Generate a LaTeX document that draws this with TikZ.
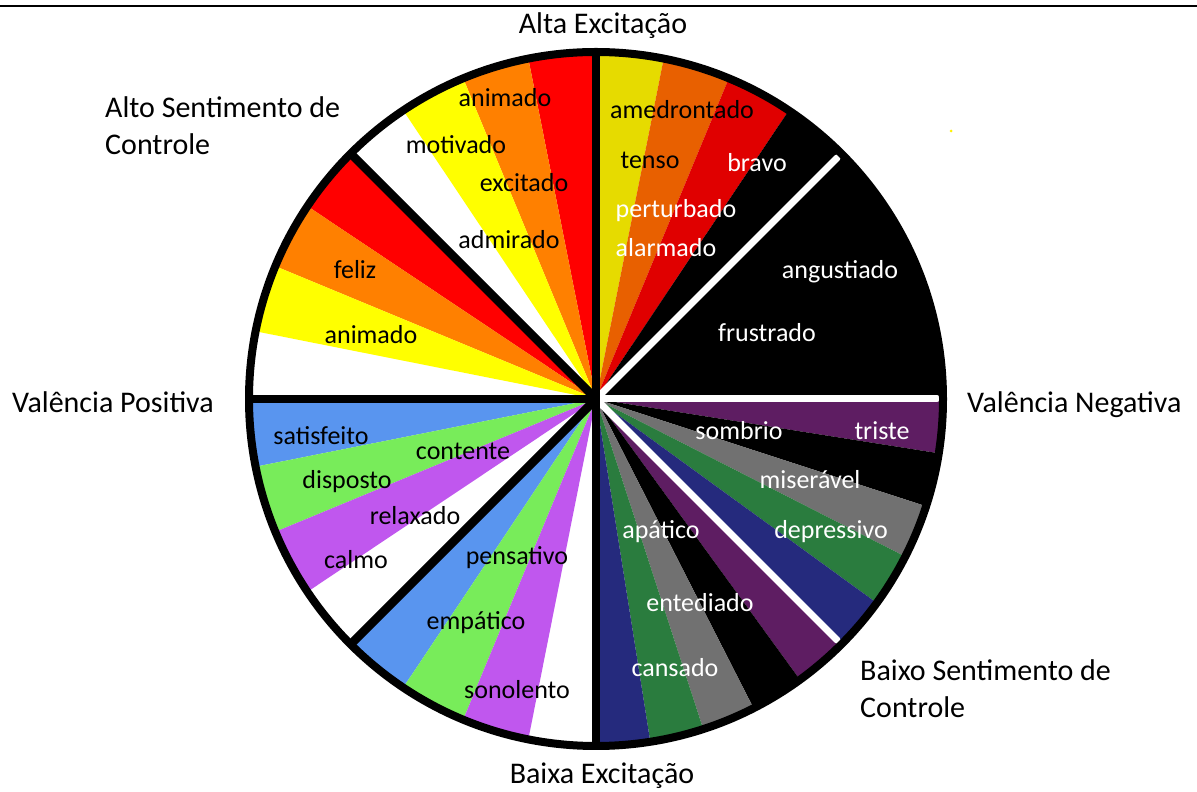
\documentclass[tikz,border=0pt]{standalone}
\usepackage{fontspec}
\setmainfont{Carlito}
\usetikzlibrary{calc}
\definecolor{cRed}{HTML}{FF0000}
\definecolor{cOrange}{HTML}{FF8000}
\definecolor{cYellow}{HTML}{FFFF00}
\definecolor{dYellow}{HTML}{E6DB00}
\definecolor{dOrange}{HTML}{E86000}
\definecolor{dRed}{HTML}{E00000}
\definecolor{cBlue}{HTML}{5995EF}
\definecolor{cGreen}{HTML}{78EC5A}
\definecolor{cLilac}{HTML}{C057EE}
\definecolor{dPurple}{HTML}{5E1D62}
\definecolor{dGray}{HTML}{717171}
\definecolor{dGreen}{HTML}{2A7C3E}
\definecolor{dNavy}{HTML}{252A7D}
\newcommand\wdg[3]{\fill[#1] (C) -- +(#2:347pt) arc[start angle=#2, end angle=#3, radius=347pt] -- cycle;}
\tikzset{
  lbl/.style={font=\fontsize{26}{31}\selectfont, text height=22pt, text depth=4pt, inner sep=0pt, anchor=center},
  lblw/.style={lbl, text=white},
  outer/.style={font=\fontsize{30}{37}\selectfont, inner sep=0pt, align=left},
  blackray/.style={draw=black, line width=8.5pt},
  whiteray/.style={draw=white, line width=7pt, line cap=round},
}
\begin{document}
\begin{tikzpicture}[x=1pt,y=1pt]
\useasboundingbox (0,0) rectangle (1197,792);
\fill[white] (0,0) rectangle (1197,792);
\draw[line width=2.5pt] (0,786) coordinate (tl) -- (1197,786) coordinate (tr);
\coordinate (C) at (596,393);
% top-left
\wdg{cRed}{90}{101.25}
\wdg{cOrange}{101.25}{112.5}
\wdg{cYellow}{112.5}{123.75}
\wdg{cRed}{135}{146.25}
\wdg{cOrange}{146.25}{157.5}
\wdg{cYellow}{157.5}{168.75}
% top-right
\wdg{dYellow}{78.75}{90}
\wdg{dOrange}{67.5}{78.75}
\wdg{dRed}{56.25}{67.5}
\wdg{black}{0}{56.25}
% bottom-right
\wdg{dPurple}{351}{360}
\wdg{black}{342}{351}
\wdg{dGray}{333}{342}
\wdg{dGreen}{324}{333}
\wdg{dNavy}{315}{324}
\wdg{dPurple}{306}{315}
\wdg{black}{297}{306}
\wdg{dGray}{288}{297}
\wdg{dGreen}{279}{288}
\wdg{dNavy}{270}{279}
% bottom-left
\wdg{cBlue}{180}{191.25}
\wdg{cGreen}{191.25}{202.5}
\wdg{cLilac}{202.5}{213.75}
\wdg{cBlue}{225}{236.25}
\wdg{cGreen}{236.25}{247.5}
\wdg{cLilac}{247.5}{258.75}
% rays
\coordinate (w0) at ($(C)+(0:341pt)$);
\coordinate (w45) at ($(C)+(45:341pt)$);
\coordinate (w315) at ($(C)+(-45:341pt)$);
\draw[whiteray] ($(C)+(0:6pt)$) -- (w0);
\draw[whiteray] ($(C)+(45:6pt)$) -- (w45);
\draw[whiteray] ($(C)+(-45:6pt)$) -- (w315);
\foreach \a in {90,135,180,225,270} {
  \draw[blackray] (C) -- +(\a:347pt);
}
\draw[line width=8pt] (C) circle[radius=347pt];
\fill[yellow] (951,661) circle[radius=1.5pt];
% inner labels (x, 792 - y)
\node[lbl] (n1) at (505,694) {animado};
\node[lbl] (n2) at (456,647) {motivado};
\node[lbl] (n3) at (524,609) {excitado};
\node[lbl] (n4) at (509,552) {admirado};
\node[lbl] (n5) at (355,522) {feliz};
\node[lbl] (n6) at (371,457) {animado};
\node[lbl] (n7) at (682,682) {amedrontado};
\node[lbl] (n8) at (650,632) {tenso};
\node[lblw] (n9) at (757,629) {bravo};
\node[lblw] (n10) at (676,583) {perturbado};
\node[lblw] (n11) at (666,544) {alarmado};
\node[lblw] (n12) at (840,522) {angustiado};
\node[lblw] (n13) at (767,459) {frustrado};
\node[lblw] (n14) at (739,361) {sombrio};
\node[lblw] (n15) at (882,361) {triste};
\node[lblw] (n16) at (810,312) {miserável};
\node[lblw] (n17) at (831,262) {depressivo};
\node[lblw] (n18) at (661,262) {apático};
\node[lblw] (n19) at (700,189) {entediado};
\node[lblw] (n20) at (675,124) {cansado};
\node[lbl] (n21) at (321,356) {satisfeito};
\node[lbl] (n22) at (463,341) {contente};
\node[lbl] (n23) at (347,312) {disposto};
\node[lbl] (n24) at (415,276) {relaxado};
\node[lbl] (n25) at (356,232) {calmo};
\node[lbl] (n26) at (517,236) {pensativo};
\node[lbl] (n27) at (476,171) {empático};
\node[lbl] (n28) at (517,102) {sonolento};
% outer labels
\node[outer, anchor=base] (top) at (603,758) {Alta Excitação};
\node[outer, anchor=base] (bot) at (602,8) {Baixa Excitação};
\node[outer, anchor=base west] (vp) at (12,379) {Valência Positiva};
\node[outer, anchor=base west] (vn) at (967,379) {Valência Negativa};
\node[outer, anchor=west] (asc) at (105,666.5) {Alto Sentimento de\\Controle};
\node[outer, anchor=west] (bsc) at (860,103.5) {Baixo Sentimento de\\Controle};
\end{tikzpicture}
\end{document}
